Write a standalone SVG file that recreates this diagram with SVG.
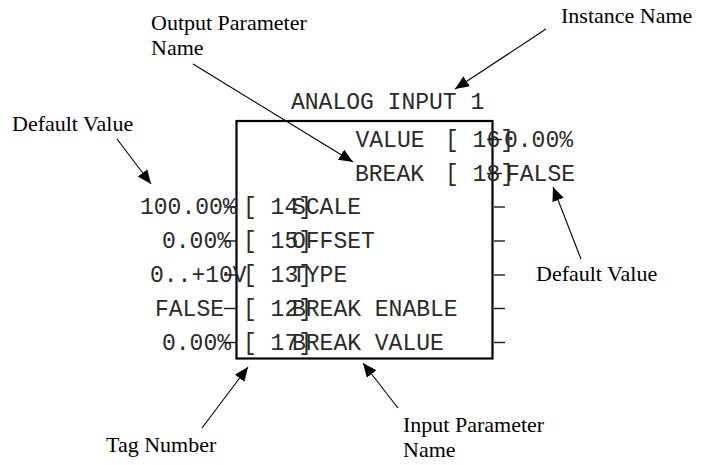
<svg xmlns="http://www.w3.org/2000/svg" width="706" height="465" viewBox="0 0 706 465">
<style>
.m{font-family:"Liberation Mono","Courier New",monospace;font-size:23px;fill:#2a2a2a}
.s{font-family:"Liberation Serif","Times New Roman",serif;font-size:22px;fill:#000}
.stub{stroke:#1a1a1a;stroke-width:1.4}
.ar{stroke:#000;stroke-width:1.1;fill:none;marker-end:url(#ah)}
</style>
<defs>
<marker id="ah" markerUnits="userSpaceOnUse" markerWidth="16" markerHeight="14" refX="14" refY="6" orient="auto">
<path d="M0,0 L14,6 L0,12 Z" fill="#000"/>
</marker>
</defs>
<g id="block">
<rect x="236.5" y="121" width="256" height="237.5" fill="none" stroke="#000" stroke-width="2.2"/>
<text class="m" x="291" y="108.5">ANALOG INPUT 1</text>
<text class="m" x="355.5" y="146.5">VALUE</text>
<text class="m" x="445" y="146.5">[ 16]</text>
<text class="m" x="504" y="146.5">0.00%</text>
<text class="m" x="355" y="180.5">BREAK</text>
<text class="m" x="445" y="180.5">[ 18]</text>
<text class="m" x="506" y="180.5">FALSE</text>
<text class="m" x="140" y="214">100.00%</text>
<text class="m" x="243" y="214">[ 14]</text>
<text class="m" x="292" y="214">SCALE</text>
<text class="m" x="162" y="248">0.00%</text>
<text class="m" x="243" y="248">[ 15]</text>
<text class="m" x="292" y="248">OFFSET</text>
<text class="m" x="150" y="282">0..+10V</text>
<text class="m" x="243" y="282">[ 13]</text>
<text class="m" x="292" y="282">TYPE</text>
<text class="m" x="155" y="315.5">FALSE</text>
<text class="m" x="243" y="315.5">[ 12]</text>
<text class="m" x="292" y="315.5">BREAK ENABLE</text>
<text class="m" x="162" y="349.5">0.00%</text>
<text class="m" x="243" y="349.5">[ 17]</text>
<text class="m" x="292" y="349.5">BREAK VALUE</text>
</g>
<g id="connectors">
<line class="stub" x1="487" y1="139.5" x2="502" y2="139.5"/>
<line class="stub" x1="487" y1="173.5" x2="502" y2="173.5"/>
<line class="stub" x1="224" y1="207" x2="237" y2="207"/>
<line class="stub" x1="224" y1="241" x2="237" y2="241"/>
<line class="stub" x1="224" y1="275" x2="237" y2="275"/>
<line class="stub" x1="224" y1="308.5" x2="237" y2="308.5"/>
<line class="stub" x1="224" y1="342.5" x2="237" y2="342.5"/>
<line class="stub" x1="494" y1="207" x2="505" y2="207"/>
<line class="stub" x1="494" y1="241" x2="505" y2="241"/>
<line class="stub" x1="494" y1="275" x2="505" y2="275"/>
<line class="stub" x1="494" y1="308.5" x2="505" y2="308.5"/>
<line class="stub" x1="494" y1="342.5" x2="505" y2="342.5"/>
<line class="ar" x1="193" y1="64" x2="353" y2="162"/>
<line class="ar" x1="546" y1="29" x2="455" y2="89"/>
<line class="ar" x1="117" y1="139" x2="151" y2="184"/>
<line class="ar" x1="581" y1="259" x2="553" y2="187"/>
<line class="ar" x1="202" y1="428" x2="248" y2="367"/>
<line class="ar" x1="398" y1="408" x2="363" y2="363"/>
</g>
<g id="label-output">
<text class="s" x="151" y="30">Output Parameter</text>
<text class="s" x="151" y="55">Name</text>
</g>
<g id="label-instance"><text class="s" x="561" y="23">Instance Name</text></g>
<g id="label-default-left"><text class="s" x="12" y="131">Default Value</text></g>
<g id="label-default-right"><text class="s" x="536" y="281">Default Value</text></g>
<g id="label-tag"><text class="s" x="106" y="452">Tag Number</text></g>
<g id="label-input">
<text class="s" x="403" y="432">Input Parameter</text>
<text class="s" x="403" y="457">Name</text>
</g>
</svg>
